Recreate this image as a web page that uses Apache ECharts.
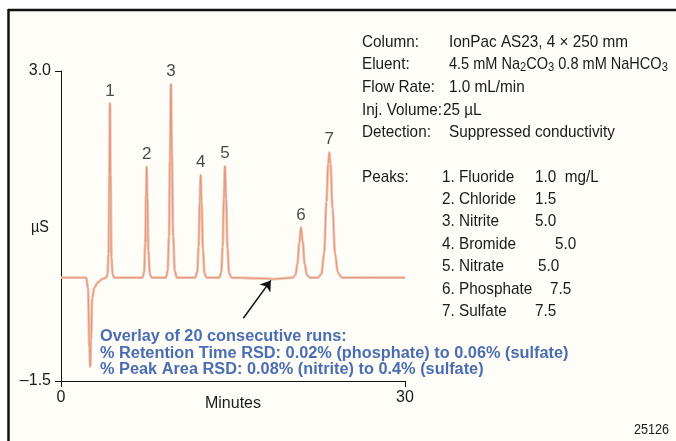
<!DOCTYPE html>
<html>
<head>
<meta charset="utf-8">
<script src="https://cdn.jsdelivr.net/npm/echarts@6/dist/echarts.min.js"></script>
<style>
  html, body { margin: 0; padding: 0; background: #ffffff; }
  #chart { width: 676px; height: 441px; }
</style>
</head>
<body>
<div id="chart"></div>
<script>
// chromatogram trace (minutes, µS)
const times = [
  0, 2.2, 2.35, 2.48, 2.55, 2.62, 2.72, 2.9, 3.2, 3.6, 3.95,
  4.05, 4.15, 4.22, 4.27, 4.32, 4.4, 4.5, 4.65,
  7.1, 7.25, 7.35, 7.42, 7.47, 7.53, 7.62, 7.75, 7.9,
  9.15, 9.3, 9.42, 9.5, 9.59, 9.67, 9.78, 9.92, 10.1,
  11.7, 11.88, 12.0, 12.1, 12.18, 12.26, 12.38, 12.52, 12.7,
  13.8, 13.98, 14.1, 14.2, 14.3, 14.4, 14.52, 14.66, 14.85,
  17.5, 18.5, 20.2, 20.45, 20.62, 20.78, 20.93, 21.08, 21.25, 21.45, 21.7,
  22.4, 22.7, 22.95, 23.15, 23.3, 23.4, 23.5, 23.68, 23.9, 24.15, 24.5,
  30
];
const signal = [
  0, 0, -0.15, -1.0, -1.29, -0.9, -0.3, -0.15, -0.07, -0.02, 0,
  0.05, 0.35, 1.5, 2.53, 1.5, 0.3, 0.05, 0,
  0, 0.08, 0.5, 1.2, 1.61, 1.15, 0.4, 0.06, 0,
  0, 0.1, 0.6, 1.7, 2.81, 1.8, 0.6, 0.1, 0,
  0, 0.08, 0.45, 1.1, 1.49, 1.1, 0.4, 0.06, 0,
  0, 0.08, 0.45, 1.15, 1.62, 1.15, 0.42, 0.07, 0,
  -0.01, -0.02, 0, 0.04, 0.2, 0.5, 0.73, 0.52, 0.2, 0.04, 0,
  0, 0.05, 0.35, 1.1, 1.65, 1.82, 1.65, 1.0, 0.35, 0.07, 0,
  0
];

const peakNames = ['1', '2', '3', '4', '5', '6', '7'];
const peakTimes = [4.27, 7.47, 9.59, 12.18, 14.3, 20.93, 23.4];
const peakHeights = [2.53, 1.61, 2.81, 1.49, 1.62, 0.73, 1.82];

const analytes = ['1. Fluoride', '2. Chloride', '3. Nitrite', '4. Bromide', '5. Nitrate', '6. Phosphate', '7. Sulfate'];
const amounts = ['1.0  mg/L', '1.5', '5.0', '5.0', '5.0', '7.5', '7.5'];

const settingLabels = ['Column:', 'Eluent:', 'Flow Rate:', 'Inj. Volume:', 'Detection:'];
const settingValues = [
  'IonPac AS23, 4 \u00d7 250 mm',
  '4.5 mM Na{sub|2}CO{sub|3} 0.8 mM NaHCO{sub|3}',
  '1.0 mL/min',
  '25 \u00b5L',
  'Suppressed conductivity'
];

const notes = [
  'Overlay of 20 consecutive runs:',
  '% Retention Time RSD: 0.02% (phosphate) to 0.06% (sulfate)',
  '% Peak Area RSD: 0.08% (nitrite) to 0.4% (sulfate)'
];

const yTicks = [-1.5, 3.0];
const xTicks = [0, 30];
const arrowFrom = [15.9, -0.59];
const arrowTo = [18.3, -0.04];

const FONT = '"Liberation Sans", Arial, sans-serif';
const INK = '#1a1a1a';
const NARROW = 0.9; // squeeze to look like the condensed face of the original

const trace = times.map((t, i) => [t, signal[i]]);
const peaks = peakTimes.map((t, i) => ({ value: [t, peakHeights[i]], name: peakNames[i] }));

const chart = echarts.init(document.getElementById('chart'));

function label(x, y, text, extra) {
  return Object.assign({
    type: 'text', x: x, y: y, scaleX: NARROW,
    style: { text: text, font: '17px ' + FONT, fill: INK, verticalAlign: 'middle' }
  }, extra || {});
}

const graphics = [
  // paper + frame
  { type: 'rect', z: -10, silent: true, shape: { x: 8, y: 9, width: 680, height: 440 }, style: { fill: '#fffdf7' } },
  { type: 'line', z: 5, shape: { x1: 8, y1: 10, x2: 676, y2: 10 }, style: { stroke: '#111', lineWidth: 2.5 } },
  { type: 'line', z: 5, shape: { x1: 8.5, y1: 9, x2: 8.5, y2: 441 }, style: { stroke: '#111', lineWidth: 2.5 } },
  label(31, 228, '\u00b5S', { style: { text: '\u00b5S', font: '16px ' + FONT, fill: INK, verticalAlign: 'middle' } }),
  label(634, 430, '25126', { style: { text: '25126', font: '14px ' + FONT, fill: INK, verticalAlign: 'middle' } })
];

const rowY = [42, 64, 87, 110, 132];
settingLabels.forEach((lab, i) => {
  graphics.push(label(362, rowY[i], lab));
  graphics.push({
    type: 'text', x: i === 3 ? 443 : 449, y: rowY[i], scaleX: i === 1 ? 0.855 : NARROW,
    style: {
      text: settingValues[i], font: '17px ' + FONT, fill: INK, verticalAlign: 'middle',
      rich: { sub: { fontSize: 13, fontFamily: FONT, fill: INK, padding: [7, 0, 0, 0] } }
    }
  });
});

graphics.push(label(362, 177, 'Peaks:'));
const amountX = [535, 535, 535, 555, 538, 550, 535];
analytes.forEach((a, i) => {
  const y = 177 + i * 22.4;
  graphics.push(label(442, y, a));
  graphics.push(label(amountX[i], y, amounts[i]));
});

notes.forEach((n, i) => {
  graphics.push({
    type: 'text', x: 100, y: 337 + i * 16.3, z: 20, scaleX: 1.02,
    style: { text: n, font: 'bold 16px ' + FONT, fill: '#4a6db3', verticalAlign: 'middle' }
  });
});

chart.setOption({
  animation: false,
  backgroundColor: '#ffffff',
  textStyle: { fontFamily: FONT },
  grid: { left: 61, right: 271, top: 71, bottom: 60 },
  xAxis: {
    type: 'value', min: 0, max: 30, interval: 30,
    name: 'Minutes', nameLocation: 'middle', nameGap: 15, nameMoveOverlap: false,
    nameTextStyle: { fontSize: 16, color: INK, fontFamily: FONT },
    axisLine: { onZero: false, lineStyle: { color: '#111', width: 1 } },
    axisTick: { show: true, length: 6, lineStyle: { color: '#111' } },
    axisLabel: { fontSize: 16, color: INK, margin: 9, customValues: xTicks },
    splitLine: { show: false }
  },
  yAxis: {
    type: 'value', min: -1.5, max: 3.0,
    axisLine: { show: true, lineStyle: { color: '#111', width: 1 } },
    axisTick: { show: true, length: 6, customValues: yTicks, lineStyle: { color: '#111' } },
    axisLabel: {
      fontSize: 16, color: INK, margin: 10, customValues: yTicks,
      formatter: v => (v < 0 ? '\u2013' : '') + Math.abs(v).toFixed(1)
    },
    splitLine: { show: false }
  },
  series: [
    {
      type: 'line', data: trace, showSymbol: false, smooth: 0.35, smoothMonotone: 'x',
      lineStyle: { color: '#efc3ae', width: 2.8 }, z: 2, silent: true
    },
    {
      type: 'line', data: trace, showSymbol: false, smooth: 0.35, smoothMonotone: 'x',
      lineStyle: { color: '#e1917b', width: 0.9 }, z: 3, silent: true,
      markLine: {
        silent: true, symbol: ['none', 'arrow'], symbolSize: 10,
        label: { show: false },
        lineStyle: { color: '#111', width: 1.5, type: 'solid' },
        data: [[{ coord: arrowFrom }, { coord: arrowTo }]]
      }
    },
    {
      type: 'scatter', data: peaks, symbolSize: 0, z: 4, silent: true,
      label: { show: true, position: 'top', distance: 4, formatter: p => p.name, fontSize: 17, color: INK, fontFamily: FONT }
    }
  ],
  graphic: graphics
});
</script>
</body>
</html>
